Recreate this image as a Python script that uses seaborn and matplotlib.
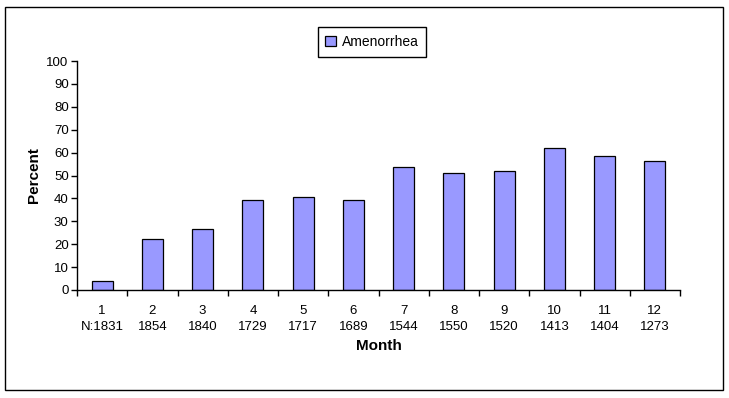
import pandas as pd
import seaborn as sns
import matplotlib.pyplot as plt
from matplotlib.patches import Rectangle

months = [str(m) for m in range(1, 13)]
n_counts = ['N:1831', '1854', '1840', '1729', '1717', '1689',
            '1544', '1550', '1520', '1413', '1404', '1273']
amenorrhea = [3.8, 22.2, 26.6, 39.2, 40.6, 39.2, 53.6, 51.0, 51.9, 61.9, 58.4, 56.3]

sns.set_theme(style='white', rc={'text.color': 'black', 'axes.labelcolor': 'black',
                                 'xtick.color': 'black', 'ytick.color': 'black'})
plt.rcParams['font.family'] = ['Liberation Sans', 'DejaVu Sans']

df = pd.DataFrame({'Month': months, 'Percent': amenorrhea})

fig = plt.figure(figsize=(7.29, 3.98), dpi=100)
ax = fig.add_axes([77 / 729, 1 - 290 / 398, 603 / 729, 229 / 398])

sns.barplot(data=df, x='Month', y='Percent', color='#9999FF', saturation=1,
            width=0.42, edgecolor='black', linewidth=0.9, label='Amenorrhea', ax=ax)

ax.set_ylim(0, 100)
ax.set_xlim(-0.5, 11.5)
ax.set_yticks(range(0, 101, 10))
ax.set_xticks(range(12))
ax.set_xticklabels([f'{m}\n{n}' for m, n in zip(months, n_counts)], fontsize=9.5,
                   linespacing=1.45)
ax.set_xticks([i + 0.5 for i in range(-1, 12)], minor=True)
ax.tick_params(axis='x', which='major', bottom=True, length=0, pad=11)
ax.tick_params(axis='x', which='minor', bottom=True, length=4, width=1, direction='out')
ax.tick_params(axis='y', left=True, length=4, width=1, direction='out', labelsize=9.5, pad=2)
for s in ['top', 'right']:
    ax.spines[s].set_visible(False)
for s in ['left', 'bottom']:
    ax.spines[s].set_color('black')
    ax.spines[s].set_linewidth(1)

ax.set_xlabel('Month', fontsize=11, fontweight='bold', labelpad=4)
ax.set_ylabel('Percent', fontsize=11, fontweight='bold', labelpad=4)

leg = ax.legend(loc='center', bbox_to_anchor=(372 / 729, 1 - 42 / 398),
                bbox_transform=fig.transFigure, fontsize=10, fancybox=False,
                framealpha=1, edgecolor='black', handlelength=0.8, handleheight=0.8,
                handletextpad=0.4, borderpad=0.55)
leg.get_frame().set_linewidth(1)

fig.patches.append(Rectangle((5 / 729, 1 - 390 / 398), 718 / 729, 383 / 398,
                             transform=fig.transFigure, fill=False,
                             edgecolor='black', linewidth=1))

fig.savefig('out.png', dpi=100)
